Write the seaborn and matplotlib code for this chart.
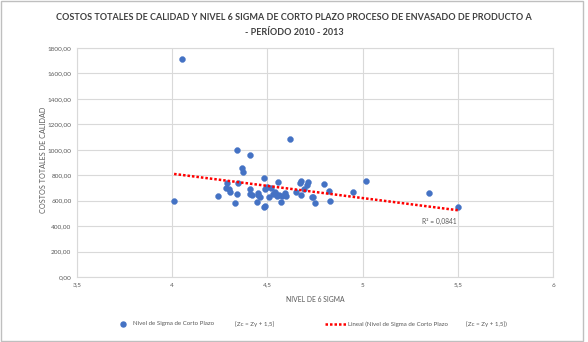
import numpy as np
import pandas as pd
import seaborn as sns
import matplotlib.pyplot as plt
from matplotlib.patches import Rectangle
from matplotlib.lines import Line2D

sigma = [4.01, 4.05, 4.24, 4.28, 4.29, 4.30, 4.305, 4.33, 4.34, 4.34, 4.345, 4.365, 4.37,
         4.41, 4.41, 4.41, 4.42, 4.445, 4.45, 4.45, 4.46, 4.48, 4.48, 4.49, 4.49, 4.50,
         4.51, 4.52, 4.53, 4.54, 4.55, 4.555, 4.55, 4.56, 4.57, 4.575, 4.595, 4.60, 4.62,
         4.65, 4.67, 4.675, 4.675, 4.69, 4.71, 4.715, 4.735, 4.74, 4.75, 4.795, 4.825,
         4.83, 4.95, 5.02, 5.35, 5.50]
costos = [601, 1713, 635, 698, 738, 688, 667, 582, 652, 998, 738, 853, 826,
          690, 958, 654, 645, 593, 664, 643, 632, 779, 548, 560, 690, 706,
          630, 700, 654, 667, 648, 743, 638, 648, 593, 638, 659, 640, 1083,
          667, 738, 754, 646, 690, 727, 743, 632, 625, 580, 733, 673,
          596, 667, 754, 664, 551]
x_ticks = [3.5, 4, 4.5, 5, 5.5, 6]
x_ticklabels = ["3,5", "4", "4,5", "5", "5,5", "6"]
y_ticks = [0, 200, 400, 600, 800, 1000, 1200, 1400, 1600, 1800]
y_ticklabels = [f"{v},00" for v in y_ticks]
title = "COSTOS TOTALES DE CALIDAD Y NIVEL 6 SIGMA DE CORTO PLAZO PROCESO DE ENVASADO DE PRODUCTO A\n- PERÍODO 2010 - 2013"
r2_label = "R² = 0,0841"
series_name = "Nivel de Sigma de Corto Plazo"
series_formula = "[Zc = Zy + 1,5]"
trend_name = "Lineal (Nivel de Sigma de Corto Plazo"
trend_formula = "[Zc = Zy + 1,5])"

df = pd.DataFrame({"sigma": sigma, "costos": costos})

sns.set_theme(style="white")
plt.rcParams['font.family'] = ['Lato', 'DejaVu Sans']

fig = plt.figure(figsize=(5.88, 3.42), dpi=100)
W, H = 588, 342
ax = fig.add_axes([77 / W, 1 - 277 / H, (553 - 77) / W, (277 - 48) / H])

fig.patches.append(Rectangle((0.002, 0.003), 0.99, 0.994, transform=fig.transFigure,
                             fill=False, edgecolor="#bfbfbf", linewidth=1.0))

blue = "#4472C4"
red = "#ff0000"
grey = "#595959"
sns.scatterplot(data=df, x="sigma", y="costos", ax=ax, color=blue, s=18,
                edgecolor=blue, linewidth=0.3, zorder=3, legend=False)

coef = np.polyfit(df["sigma"], df["costos"], 1)
xs = np.array([min(sigma), max(sigma)])
ax.plot(xs, np.polyval(coef, xs), color=red, linestyle=(0, (1, 0.8)),
        linewidth=1.8, zorder=4)

ax.set_xlim(3.5, 6)
ax.set_ylim(0, 1800)
ax.set_xticks(x_ticks)
ax.set_xticklabels(x_ticklabels)
ax.set_yticks(y_ticks)
ax.set_yticklabels(y_ticklabels)
ax.tick_params(axis="both", labelsize=4.6, colors=grey, length=0, pad=4)
ax.grid(True, color="#d9d9d9", linewidth=0.8)
for s in ax.spines.values():
    s.set_color("#d9d9d9")
    s.set_linewidth(0.8)

ax.set_xlabel("NIVEL DE 6 SIGMA", fontsize=4.9, color=grey)
ax.xaxis.set_label_coords(0.5, -(299 - 277) / 229)
ax.set_ylabel("COSTOS TOTALES DE CALIDAD", fontsize=5.2, color=grey)
ax.yaxis.set_label_coords((43 - 77) / 476, (277 - 160) / 229)
ax.xaxis.label.set_va("center")
ax.yaxis.label.set_va("center")

ax.text(5.31, 440, r2_label, fontsize=4.8, color=grey, ha="left", va="center")

fig.text(0.5, 1 - 25 / H, title, ha="center", va="center", fontsize=6.5,
         fontweight="bold", color="#404040", linespacing=1.9)

# legend, drawn at the positions of the reference
ly = 1 - 324 / H
fig.add_artist(Line2D([123 / W], [ly], marker="o", color="none", markerfacecolor=blue,
                      markeredgecolor=blue, markersize=3.6, transform=fig.transFigure))
fig.text(133 / W, ly, series_name, fontsize=4.4, color=grey, va="center", ha="left")
fig.text(235 / W, ly, series_formula, fontsize=4.4, color=grey, va="center", ha="left")
fig.add_artist(Line2D([325 / W, 346 / W], [ly, ly], color=red, linestyle=(0, (1, 0.8)),
                      linewidth=1.8, transform=fig.transFigure))
fig.text(348 / W, ly, trend_name, fontsize=4.4, color=grey, va="center", ha="left")
fig.text(466 / W, ly, trend_formula, fontsize=4.4, color=grey, va="center", ha="left")

fig.savefig("out.png", dpi=100)
